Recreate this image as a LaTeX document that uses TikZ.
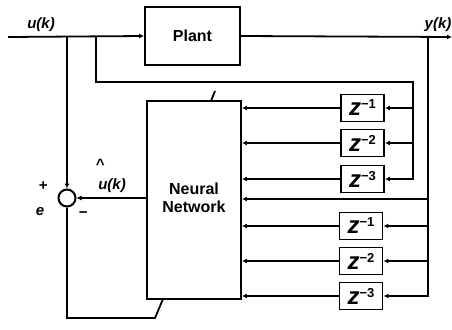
\documentclass[tikz,border=0pt]{standalone}
\usepackage{fontspec}
\setmainfont{Liberation Sans}
\usetikzlibrary{arrows.meta}
\begin{document}
\begin{tikzpicture}[x=1pt,y=-1pt, line width=1.8pt,
  blk/.style={draw, line width=1.9pt, rectangle, inner sep=0pt},
  dly/.style={blk, minimum width=43, minimum height=27, font=\bfseries\fontsize{24}{24}\selectfont},
  arr/.style={-{Latex[length=5pt,width=5pt]}},
  lbl/.style={font=\bfseries\itshape\fontsize{15}{15}\selectfont, inner sep=0pt}]
\useasboundingbox (0,0) rectangle (452,329);
% blocks
\node[blk, minimum width=95, minimum height=58, font=\bfseries\fontsize{16}{18}\selectfont] (plant) at (192.5,36) {Plant};
\node[blk, minimum width=94, minimum height=198, font=\bfseries\fontsize{16}{18}\selectfont] (nn) at (194,200) {\raisebox{6pt}{\begin{tabular}{@{}c@{}}Neural\\Network\end{tabular}}};
\node[dly] (d1) at (362.5,108) {\textit{z}\raisebox{7pt}{\fontsize{13}{13}\selectfont −1}};
\node[dly] (d2) at (362.5,143) {\textit{z}\raisebox{7pt}{\fontsize{13}{13}\selectfont −2}};
\node[dly] (d3) at (362.5,179) {\textit{z}\raisebox{7pt}{\fontsize{13}{13}\selectfont −3}};
\node[dly] (e1) at (361,226) {\textit{z}\raisebox{7pt}{\fontsize{13}{13}\selectfont −1}};
\node[dly] (e2) at (361,261) {\textit{z}\raisebox{7pt}{\fontsize{13}{13}\selectfont −2}};
\node[dly] (e3) at (361,296) {\textit{z}\raisebox{7pt}{\fontsize{13}{13}\selectfont −3}};
\node[draw, circle, minimum size=17, inner sep=0pt, line width=2pt] (sum) at (67,198) {};
% coordinates
\coordinate (in) at (8,37);
\coordinate (out) at (452,37);
\coordinate (bu) at (67,37);
\coordinate (bv) at (96,37);
\coordinate (ut) at (413,82);
\coordinate (yt) at (428,37);
\coordinate (lb) at (67,318);
\coordinate (lc) at (155,318);
\coordinate (ld) at (163,299);
\coordinate (sa) at (211,101);
\coordinate (sb) at (215,91);
% main line
\draw[arr] (in) -- (plant.west);
\draw[arr] (plant.east) -- (out);
\draw[arr] (bu) -- (sum.north);
\draw[arr] (sum.east -| nn.west) -- (sum.east);
\draw (sum.south) -- (lb) -- (lc) -- (ld);
\draw (sa) -- (sb);
% u delay chain
\draw[arr] (bv) |- (ut) |- (d3.east);
\draw[arr] (d1.east -| ut) -- (d1.east);
\draw[arr] (d2.east -| ut) -- (d2.east);
% y delay chain
\draw[arr] (yt) |- (e3.east);
\draw[arr] (yt |- 0,199) -- (nn.east |- 0,199);
\draw[arr] (e1.east -| yt) -- (e1.east);
\draw[arr] (e2.east -| yt) -- (e2.east);
% into NN
\foreach \d in {d1,d2,d3,e1,e2,e3} \draw[arr] (\d.west) -- (\d.west -| nn.east);
% labels
\node[lbl] at (41,25) {u(k)};
\node[lbl] at (438,25) {y(k)};
\node[lbl] at (43,186) {+};
\node[lbl] at (40,212) {e};
\node[lbl] at (83,215) {−};
\node[lbl] at (100,164) {\textasciicircum};
\node[lbl] at (112,186) {u(k)};
\end{tikzpicture}
\end{document}
